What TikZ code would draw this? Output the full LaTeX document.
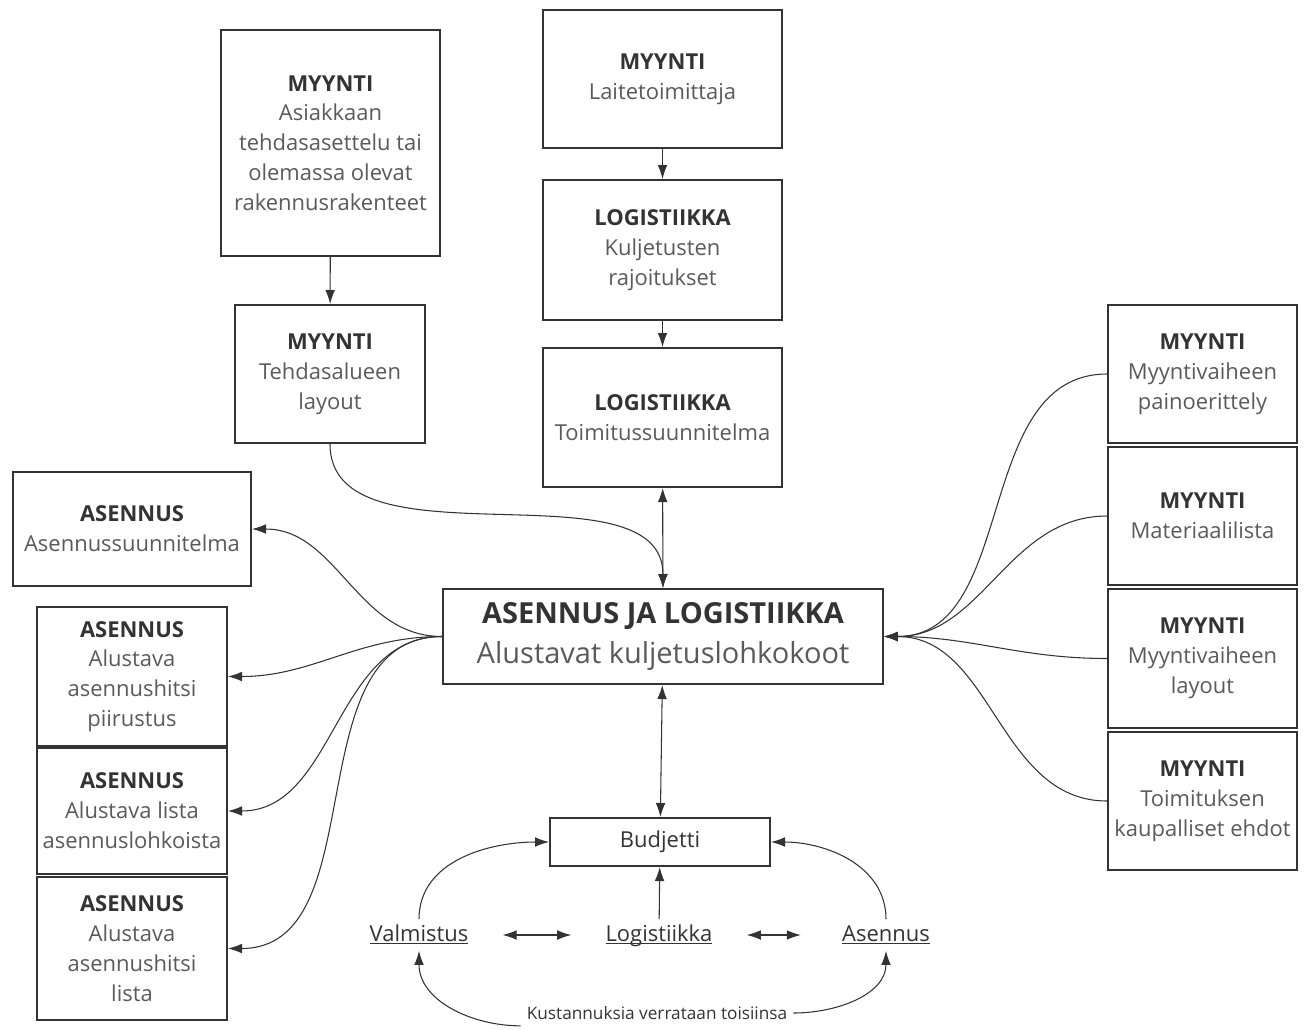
\documentclass[tikz,border=0pt]{standalone}
\usepackage{fontspec}
\setmainfont{Open Sans}
\usepackage{xcolor}
\usepackage{tikz}
\usetikzlibrary{shapes}
\usetikzlibrary{arrows.meta,arrows}

\definecolor{linjat}{HTML}{333333}
\definecolor{teksti}{HTML}{5A5A5A}
\newcommand{\otsikko}[1]{\textcolor{linjat}{\bfseries #1}}
\newcommand{\alleviivaa}[1]{\underline{\smash{#1}\vphantom{A}}}
\tikzset{
  laatikko/.style={draw=linjat, line width=1.1pt, align=center, text=teksti,
    font=\fontsize{12.5}{17}\selectfont, inner sep=2pt},
  nuoli/.style={draw=linjat, line width=0.6pt, -{Latex[length=8pt,width=5.5pt]}},
  kaksnuoli/.style={draw=linjat, line width=0.6pt,
    {Latex[length=8pt,width=5.5pt]}-{Latex[length=8pt,width=5.5pt]}},
  linkki/.style={text=linjat, font=\fontsize{12.5}{17}\selectfont}
}

\begin{document}
\begin{tikzpicture}[x=0.02cm, y=-0.02cm]
\useasboundingbox (0,0) rectangle (1305,1029);
%%% The upper boxes
\node[laatikko, minimum width=4.38cm, minimum height=4.52cm] (asiak) at (330.5,143)
  {\otsikko{MYYNTI}\\Asiakkaan\\tehdasasettelu tai\\olemassa olevat\\rakennusrakenteet};
\node[laatikko, minimum width=3.8cm, minimum height=2.76cm] (tehdas) at (330,374)
  {\otsikko{MYYNTI}\\Tehdasalueen\\layout};
\node[laatikko, minimum width=4.78cm, minimum height=2.76cm] (laite) at (662.5,79)
  {\otsikko{MYYNTI}\\Laitetoimittaja};
\node[laatikko, minimum width=4.78cm, minimum height=2.8cm] (kuljet) at (662.5,250)
  {\otsikko{LOGISTIIKKA}\\Kuljetusten\\rajoitukset};
\node[laatikko, minimum width=4.78cm, minimum height=2.78cm] (toimit) at (662.5,417.5)
  {\otsikko{LOGISTIIKKA}\\Toimitussuunnitelma};
%%% The central box and the budget
\node[laatikko, minimum width=8.8cm, minimum height=1.9cm, font=\fontsize{16.5}{22.5}\selectfont] (keski) at (663,636.5)
  {\otsikko{ASENNUS JA LOGISTIIKKA}\\Alustavat kuljetuslohkokoot};
\node[laatikko, minimum width=4.4cm, minimum height=0.96cm, text=linjat] (budj) at (660,842) {Budjetti};
%%% The left boxes
\node[laatikko, minimum width=4.76cm, minimum height=2.28cm] (asuunn) at (132,529)
  {\otsikko{ASENNUS}\\Asennussuunnitelma};
\node[laatikko, minimum width=3.8cm, minimum height=2.78cm] (piirus) at (132,676.5)
  {\otsikko{ASENNUS}\\Alustava\\asennushitsi\\piirustus};
\node[laatikko, minimum width=3.8cm, minimum height=2.52cm] (lista) at (132,811)
  {\otsikko{ASENNUS}\\Alustava lista\\asennuslohkoista};
\node[laatikko, minimum width=3.8cm, minimum height=2.86cm] (hlista) at (132,948.5)
  {\otsikko{ASENNUS}\\Alustava\\asennushitsi\\lista};
%%% The right boxes
\node[laatikko, minimum width=3.78cm, minimum height=2.76cm] (mpaino) at (1202.5,374)
  {\otsikko{MYYNTI}\\Myyntivaiheen\\painoerittely};
\node[laatikko, minimum width=3.78cm, minimum height=2.76cm] (mater) at (1202.5,516)
  {\otsikko{MYYNTI}\\Materiaalilista};
\node[laatikko, minimum width=3.78cm, minimum height=2.78cm] (mlayout) at (1202.5,658.5)
  {\otsikko{MYYNTI}\\Myyntivaiheen\\layout};
\node[laatikko, minimum width=3.78cm, minimum height=2.76cm] (ehdot) at (1202.5,801)
  {\otsikko{MYYNTI}\\Toimituksen\\kaupalliset ehdot};
%%% The cost comparison
\node[linkki] (valm) at (419,935) {\alleviivaa{Valmistus}};
\node[linkki] (logis) at (659,935) {\alleviivaa{Logistiikka}};
\node[linkki] (asenn) at (886,935) {\alleviivaa{Asennus}};
\node[text=linjat, font=\fontsize{9.8}{11}\selectfont] (kust) at (657,1013) {Kustannuksia verrataan toisiinsa};

%%% The edges of the upper part
\draw[nuoli] (asiak) -- (tehdas);
\draw[nuoli] (laite) -- (kuljet);
\draw[nuoli] (kuljet) -- (toimit);
\draw[kaksnuoli] (toimit) -- (keski);
\draw[nuoli] (tehdas.south) to[out=-90, in=90, looseness=0.9] (keski.north);
\draw[kaksnuoli] (keski) -- (budj);
%
%%% The edges to the left boxes
\draw[nuoli] (keski.west) to[out=180, in=0] (asuunn.east);
\draw[nuoli] (keski.west) to[out=180, in=0] (piirus.east);
\draw[nuoli] (keski.west) to[out=180, in=0] (lista.east);
\draw[nuoli] (keski.west) to[out=180, in=0] (hlista.east);
%
%%% The edges from the right boxes
\draw[nuoli] (mpaino.west) to[out=180, in=0] (keski.east);
\draw[nuoli] (mater.west) to[out=180, in=0] (keski.east);
\draw[nuoli] (mlayout.west) to[out=180, in=0] (keski.east);
\draw[nuoli] (ehdot.west) to[out=180, in=0] (keski.east);
%
%%% The edges around the budget
\draw[nuoli] (valm.north) to[out=90, in=180] (budj.west);
\draw[nuoli] (asenn.north) to[out=90, in=0] (budj.east);
\draw[nuoli] (logis) -- (budj);
\draw[kaksnuoli, shorten <=16pt, shorten >=16pt] (valm) -- (logis);
\draw[kaksnuoli, shorten <=16pt, shorten >=20pt] (logis) -- (asenn);
\draw[nuoli] (kust.south west) to[out=180, in=-90] (valm.south);
\draw[nuoli] (kust.east) to[out=0, in=-90] (asenn.south);
\end{tikzpicture}
\end{document}
